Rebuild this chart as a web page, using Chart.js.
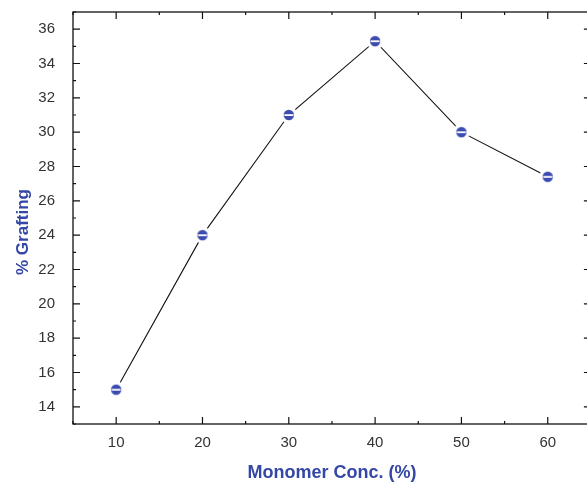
<!DOCTYPE html>
<html lang="en">
<head>
    <meta charset="UTF-8">
    <title>% Grafting vs Monomer Conc.</title>
    <script src="https://cdn.jsdelivr.net/npm/chart.js"></script>
    <style>
        html, body { margin: 0; padding: 0; background: #fff; overflow: hidden; }
    </style>
</head>
<body>
    <canvas id="graftChart" width="601" height="484"></canvas>
    <script>
        // data
        var monomerConc = [10, 20, 30, 40, 50, 60];
        var grafting = [15.0, 24.0, 31.0, 35.3, 30.0, 27.4];
        var xTicks = [10, 20, 30, 40, 50, 60];
        var yTicks = [14, 16, 18, 20, 22, 24, 26, 28, 30, 32, 34, 36];

        var blue = '#3b4bb0';
        var titleBlue = '#3447a6';

        // half-filled circle marker, with a white halo so the line stops short of it
        var marker = document.createElement('canvas');
        marker.width = 18; marker.height = 18;
        var m = marker.getContext('2d');
        m.fillStyle = '#fff';
        m.beginPath(); m.arc(9, 9, 8.5, 0, Math.PI * 2); m.fill();
        m.fillStyle = blue;
        m.beginPath(); m.arc(9, 9, 5.2, 0, Math.PI * 2); m.fill();
        m.fillStyle = '#fff';
        m.fillRect(4.5, 8.2, 9, 1.8);

        var frame = {
            id: 'frame',
            afterDraw: function (chart) {
                var ctx = chart.ctx, a = chart.chartArea;
                var xs = chart.scales.x, ys = chart.scales.y;
                ctx.save();
                ctx.strokeStyle = '#111';
                ctx.lineWidth = 1.3;
                ctx.strokeRect(a.left, a.top, a.right - a.left, a.bottom - a.top);
                ctx.lineWidth = 1.2;
                ctx.beginPath();
                for (var v = 5; v <= 65; v += 5) {
                    var px = xs.getPixelForValue(v);
                    var len = (v % 10 === 0) ? 7 : 3;
                    ctx.moveTo(px, a.bottom); ctx.lineTo(px, a.bottom - len);
                    ctx.moveTo(px, a.top); ctx.lineTo(px, a.top + len);
                }
                for (var w = 13; w <= 37; w += 1) {
                    var py = ys.getPixelForValue(w);
                    var l2 = (w % 2 === 0) ? 7 : 3;
                    ctx.moveTo(a.left, py); ctx.lineTo(a.left + l2, py);
                    ctx.moveTo(a.right, py); ctx.lineTo(a.right - l2, py);
                }
                ctx.stroke();

                ctx.fillStyle = titleBlue;
                ctx.font = 'bold 18px "Liberation Sans", Arial, sans-serif';
                ctx.textAlign = 'center';
                ctx.textBaseline = 'middle';
                ctx.fillText('Monomer Conc. (%)', 332, 473);
                ctx.translate(23, 232);
                ctx.rotate(-Math.PI / 2);
                ctx.font = 'bold 17px "Liberation Sans", Arial, sans-serif';
                ctx.fillText('% Grafting', 0, 0);
                ctx.restore();
            }
        };

        var ctx = document.getElementById('graftChart').getContext('2d');
        var chart = new Chart(ctx, {
            type: 'line',
            data: {
                datasets: [{
                    data: monomerConc.map(function (x, i) { return { x: x, y: grafting[i] }; }),
                    borderColor: '#111',
                    borderWidth: 1.1,
                    tension: 0,
                    pointStyle: marker,
                    pointRadius: 9,
                    clip: false
                }]
            },
            options: {
                responsive: false,
                animation: false,
                devicePixelRatio: 1,
                layout: { padding: { left: 0, right: 4, top: 12, bottom: 0 } },
                plugins: { legend: { display: false }, tooltip: { enabled: false } },
                scales: {
                    x: {
                        type: 'linear',
                        min: 5, max: 65,
                        afterBuildTicks: function (s) { s.ticks = xTicks.map(function (v) { return { value: v }; }); },
                        afterFit: function (s) {
                            s.height = 60;
                            s.paddingLeft = 0; s.paddingRight = 0;
                        },
                        grid: { display: false },
                        border: { display: false },
                        ticks: {
                            color: '#333',
                            padding: 2,
                            font: { family: '"Liberation Sans", Arial, sans-serif', size: 15 }
                        }
                    },
                    y: {
                        min: 13, max: 37,
                        afterBuildTicks: function (s) { s.ticks = yTicks.map(function (v) { return { value: v }; }); },
                        afterFit: function (s) {
                            s.width = 73;
                            s.paddingTop = 0; s.paddingBottom = 0;
                        },
                        grid: { display: false },
                        border: { display: false },
                        ticks: {
                            color: '#333',
                            padding: 10,
                            font: { family: '"Liberation Sans", Arial, sans-serif', size: 15 }
                        }
                    }
                }
            },
            plugins: [frame]
        });
    </script>
</body>
</html>
